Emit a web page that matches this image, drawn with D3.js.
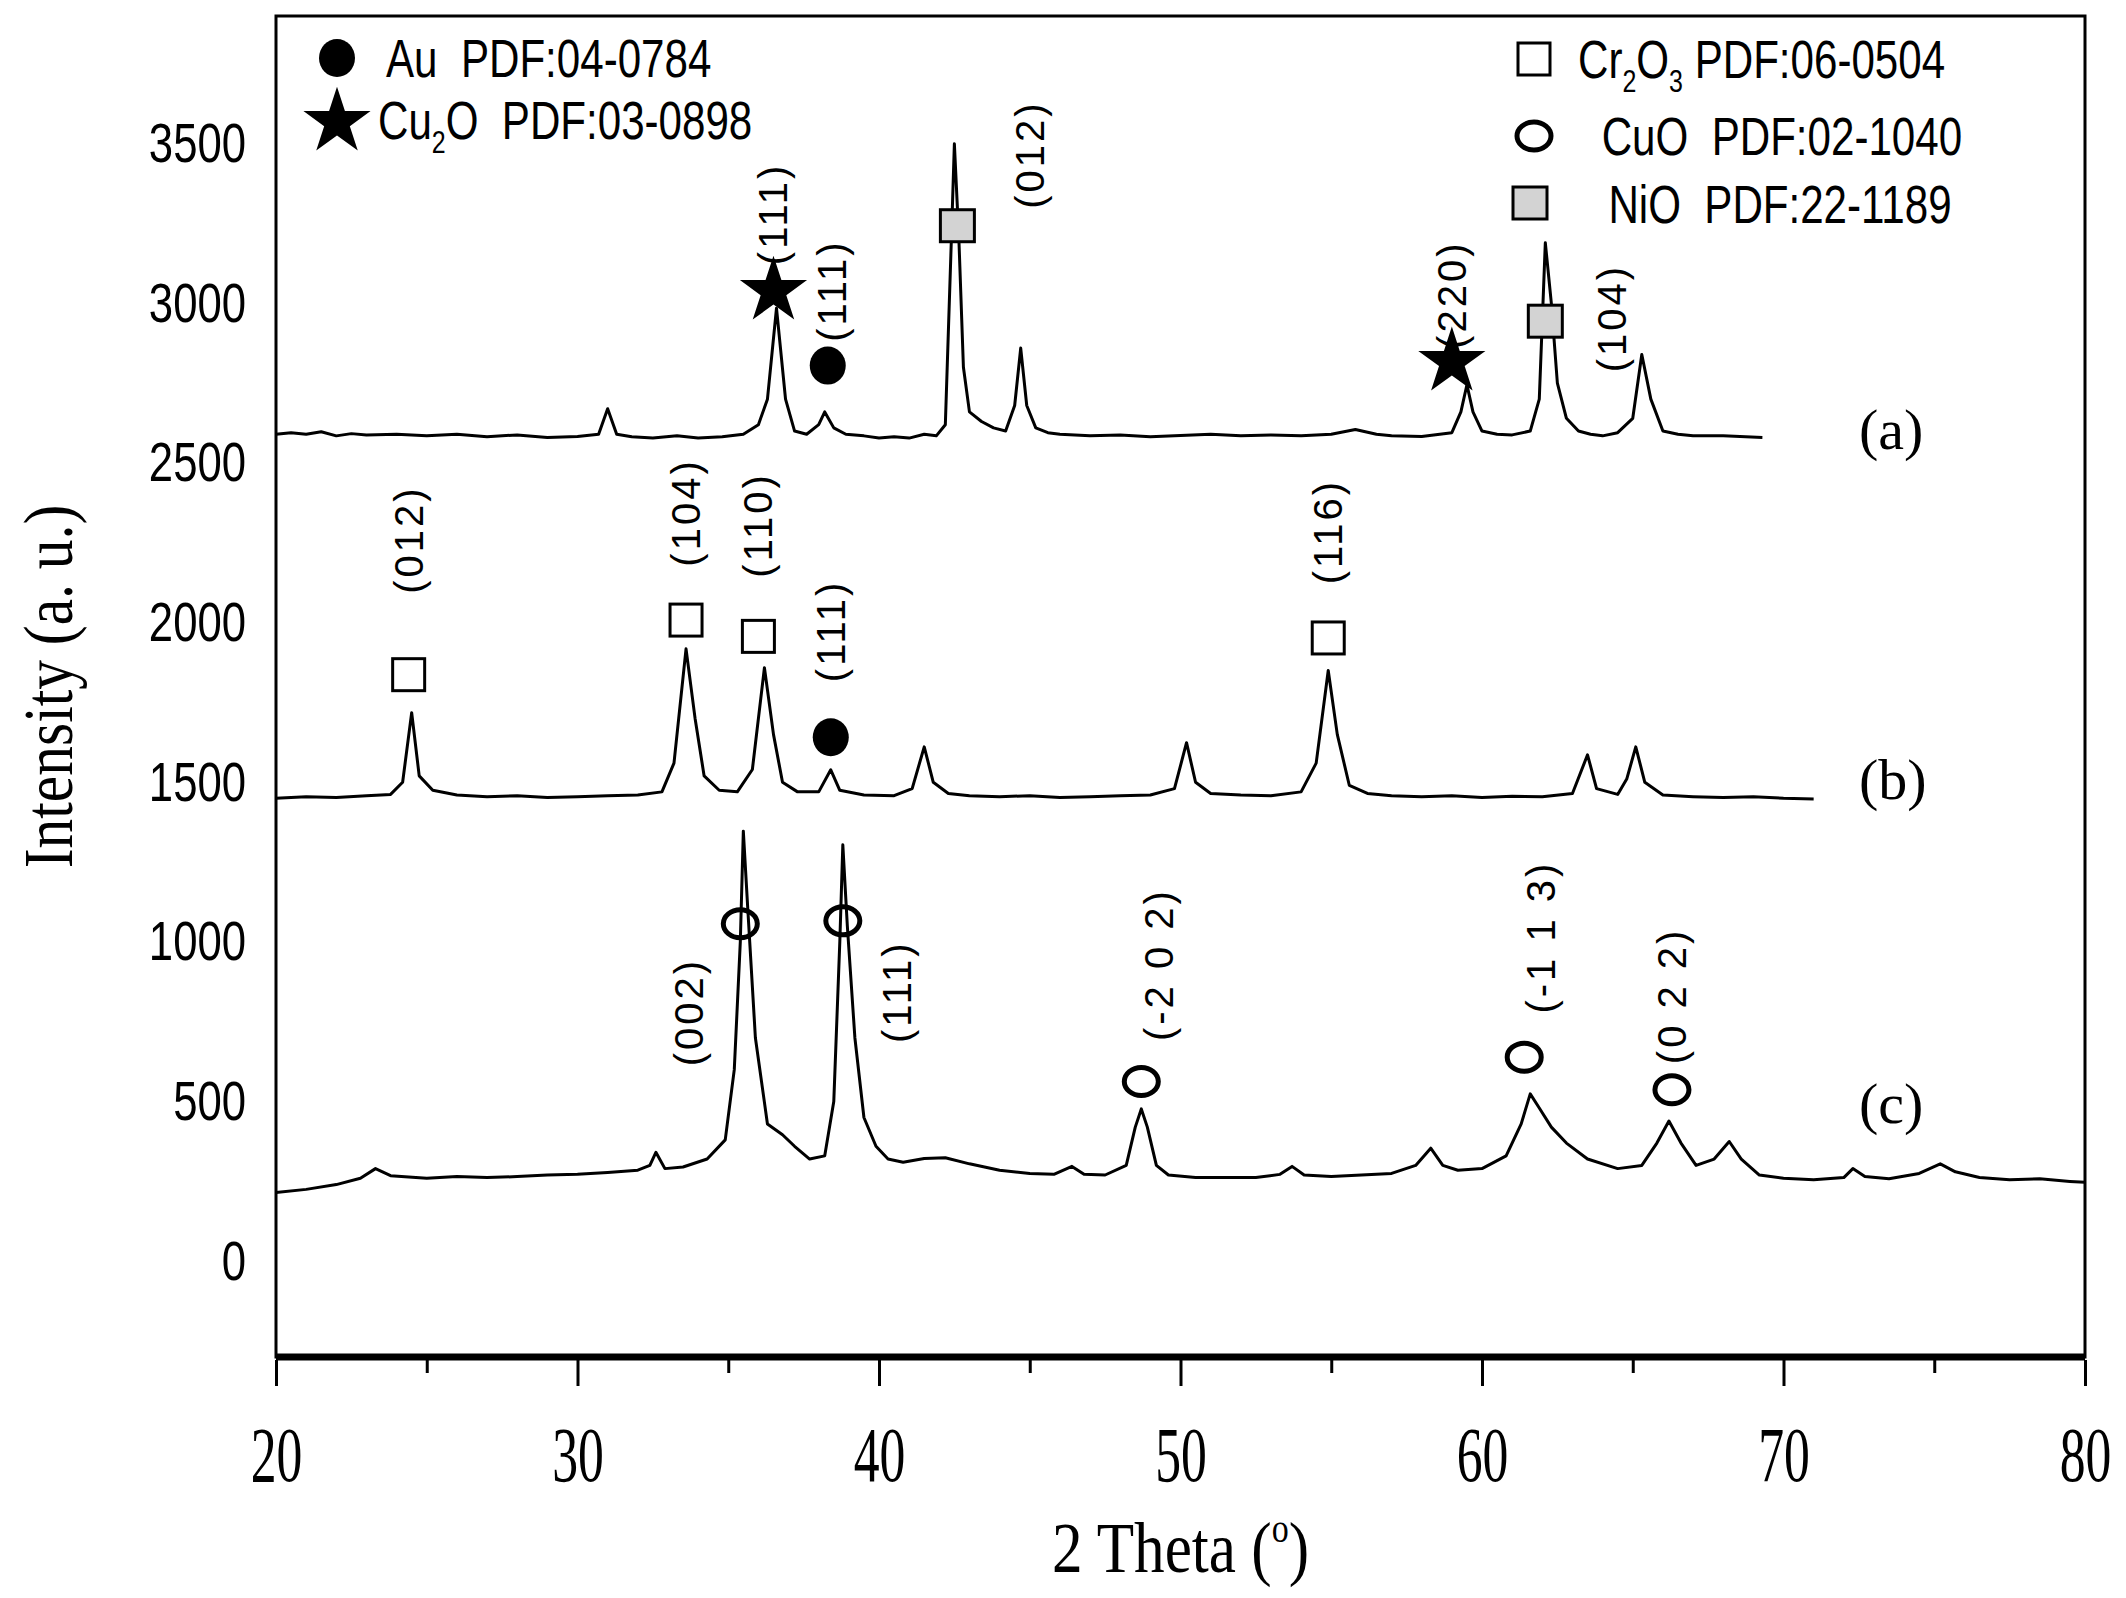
<!DOCTYPE html>
<html><head><meta charset="utf-8">
<script src="https://cdn.jsdelivr.net/npm/d3@7"></script>
<style>body{margin:0;background:#fff}</style></head>
<body><svg id="c" width="2126" height="1598"></svg>
<script>
const xTicks=[20,30,40,50,60,70,80];
const yTicks=[0,500,1000,1500,2000,2500,3000,3500];
const seriesA=[[20,2590],[20.5,2595],[21,2590],[21.5,2598],[22,2585],[22.5,2592],[23,2588],[24,2590],[25,2585],[26,2590],[27,2582],[28,2588],[29,2580],[30,2583],[30.7,2590],[31,2670],[31.3,2590],[31.8,2582],[32.5,2578],[33.3,2585],[34,2578],[34.8,2582],[35.5,2590],[36,2620],[36.3,2700],[36.6,2985],[36.9,2700],[37.2,2600],[37.6,2590],[38,2620],[38.2,2660],[38.5,2610],[38.9,2590],[39.5,2585],[40,2578],[40.5,2582],[41,2578],[41.5,2590],[41.9,2585],[42.2,2620],[42.4,3200],[42.5,3500],[42.65,3200],[42.8,2800],[43,2660],[43.4,2630],[43.8,2610],[44.2,2600],[44.5,2680],[44.7,2860],[44.9,2680],[45.2,2610],[45.6,2595],[46,2590],[47,2585],[48,2588],[49,2582],[50,2586],[51,2590],[52,2585],[53,2588],[54,2585],[55,2590],[55.8,2605],[56.5,2590],[57,2585],[58,2583],[59,2595],[59.3,2660],[59.5,2745],[59.7,2660],[60,2600],[60.5,2590],[61,2588],[61.6,2600],[61.9,2700],[62.1,3190],[62.3,3000],[62.5,2750],[62.8,2640],[63.2,2600],[63.6,2590],[64,2585],[64.5,2595],[65,2640],[65.3,2840],[65.6,2700],[66,2600],[66.5,2590],[67,2585],[68,2585],[69.3,2580]];
const seriesB=[[20,1450],[21,1455],[22,1452],[23,1458],[23.8,1462],[24.2,1500],[24.5,1718],[24.75,1520],[25.2,1475],[26,1460],[27,1455],[28,1458],[29,1452],[30,1455],[31,1458],[32,1460],[32.8,1470],[33.2,1560],[33.6,1918],[33.9,1700],[34.2,1520],[34.7,1475],[35.3,1470],[35.8,1540],[36.2,1859],[36.5,1650],[36.8,1500],[37.3,1470],[38,1470],[38.4,1539],[38.7,1475],[39.5,1460],[40.5,1458],[41.1,1480],[41.5,1611],[41.8,1500],[42.3,1465],[43,1458],[44,1455],[45,1458],[46,1452],[47,1455],[48,1458],[49,1460],[49.8,1480],[50.2,1624],[50.5,1500],[51,1465],[52,1460],[53,1458],[54,1470],[54.5,1560],[54.9,1850],[55.2,1650],[55.6,1490],[56.2,1465],[57,1458],[58,1455],[59,1458],[60,1452],[61,1456],[62,1455],[63,1465],[63.5,1586],[63.8,1480],[64.5,1462],[64.8,1510],[65.1,1611],[65.4,1500],[66,1460],[67,1455],[68,1452],[69,1455],[70,1450],[71,1448]];
const seriesC=[[20,215],[21,225],[22,240],[22.8,260],[23.3,290],[23.8,268],[25,260],[26,265],[27,262],[28,265],[29,270],[30,272],[31,278],[32,285],[32.4,300],[32.6,341],[32.9,290],[33.5,295],[34.3,320],[34.9,380],[35.2,600],[35.4,1000],[35.5,1347],[35.65,1100],[35.9,700],[36.3,430],[36.8,396],[37.2,360],[37.7,320],[38.2,330],[38.5,500],[38.7,1000],[38.8,1304],[38.95,1050],[39.2,700],[39.5,450],[39.9,360],[40.3,320],[40.8,310],[41.5,322],[42.2,324],[43,305],[44,285],[45,275],[45.8,272],[46.4,297],[46.8,272],[47.5,270],[48.2,300],[48.5,420],[48.7,477],[48.9,420],[49.2,300],[49.6,270],[50.5,262],[51.5,262],[52.5,262],[53.3,272],[53.7,297],[54.1,270],[55,265],[56,270],[57,275],[57.8,300],[58.3,354],[58.7,300],[59.2,285],[60,290],[60.8,330],[61.3,430],[61.6,524],[61.9,480],[62.3,420],[62.8,370],[63.5,320],[64.5,290],[65.3,300],[65.8,370],[66.2,439],[66.6,370],[67.1,300],[67.7,320],[68.2,375],[68.6,320],[69.2,270],[70,260],[71,255],[72,262],[72.3,290],[72.7,265],[73.5,258],[74.5,275],[75.2,305],[75.7,280],[76.5,262],[77.5,255],[78.5,258],[79.5,250],[80,247]];
const markers=[["star",36.5,3048],["dot",38.3,2805],["grey",42.6,3240],["star",59.0,2826],["grey",62.1,2941],
 ["sq",24.4,1837],["sq",33.6,2008],["sq",36.0,1957],["dot",38.4,1641],["sq",54.9,1952],
 ["ring",35.4,1057],["ring",38.8,1066],["ring",48.7,563],["ring",61.4,639],["ring",66.3,537]];
const hkl=[["(111)",36.5,3280],["(111)",38.45,3040],["(012)",45.0,3466],["(220)",59.0,3027],["(104)",64.3,2954],
 ["(012)",24.4,2260],["(104)",33.6,2345],["(110)",36.0,2306],["(111)",38.4,1974],["(116)",54.9,2285],
 ["(002)",33.7,780],["(111)",40.6,844],["(-2 0 2)",49.3,929],["(-1 1 3)",61.95,1015],["(0 2 2)",66.3,831]];
const seriesNames=[["(a)",72.5,2593],["(b)",72.5,1498],["(c)",72.5,482]];

const L=276,R=2085,T=16,B=1357;
const svg=d3.select("#c");
const x=d3.scaleLinear().domain([20,80]).range([L,R]);
const y=d3.scaleLinear().domain([-300,3900]).range([B,T]);
const sans="'Liberation Sans',Arial,sans-serif";
const serif="'Liberation Serif','Times New Roman',serif";
const SX=0.78;

const line=d3.line().x(d=>x(d[0])).y(d=>y(d[1]));
[seriesA,seriesB,seriesC].forEach(s=>svg.append("path").attr("d",line(s)).attr("fill","none").attr("stroke","#000").attr("stroke-width",3).attr("stroke-linejoin","round"));

svg.append("rect").attr("x",L).attr("y",T).attr("width",R-L).attr("height",B-T).attr("fill","none").attr("stroke","#000").attr("stroke-width",3);
svg.append("line").attr("x1",L).attr("x2",R).attr("y1",B).attr("y2",B).attr("stroke","#000").attr("stroke-width",7);
const xa=svg.append("g").attr("transform",`translate(0,${B+3})`).call(d3.axisBottom(x).tickValues(xTicks).tickSize(26).tickPadding(40).tickFormat(d3.format("d")));
xa.select(".domain").remove();
xa.selectAll("line").attr("stroke-width",3);
xa.selectAll("text").attr("font-family",serif).attr("font-size",78).attr("dy","0.71em").attr("transform",`scale(${SX*0.85},1)`);
svg.append("g").attr("transform",`translate(0,${B+3})`).call(d3.axisBottom(x).tickValues(d3.range(25,80,10)).tickSize(13).tickFormat(""))
 .call(g=>{g.select(".domain").remove();g.selectAll("line").attr("stroke-width",3);});
const ya=svg.append("g").attr("transform",`translate(${L},0)`).call(d3.axisLeft(y).tickValues(yTicks).tickSize(0).tickFormat(d3.format("d")));
ya.select(".domain").remove();
ya.selectAll("text").attr("font-family",sans).attr("font-size",56).attr("x",-30/SX).attr("transform",`scale(${SX},1)`);
const xt=svg.append("text").attr("transform",`translate(${(L+R)/2},1572) scale(0.85,1)`).attr("text-anchor","middle").attr("font-family",serif).attr("font-size",72)
 .text("2 Theta (");
xt.append("tspan").attr("font-size",40).attr("dy",-30).text("o");
xt.append("tspan").attr("dy",30).text(")");
svg.append("text").attr("transform","translate(72,"+((T+B)/2)+") rotate(-90) scale(0.85,1)").attr("text-anchor","middle").attr("font-family",serif).attr("font-size",70).text("Intensity (a. u.)");

function drawMarker(g,t,cx,cy){
  if(t==="dot") g.append("ellipse").attr("cx",cx).attr("cy",cy).attr("rx",18).attr("ry",19).attr("fill","#000");
  else if(t==="ring") g.append("ellipse").attr("cx",cx).attr("cy",cy).attr("rx",17).attr("ry",14).attr("fill","none").attr("stroke","#000").attr("stroke-width",5);
  else if(t==="sq") g.append("rect").attr("x",cx-16).attr("y",cy-16).attr("width",32).attr("height",32).attr("fill","#fff").attr("stroke","#000").attr("stroke-width",3);
  else if(t==="grey") g.append("rect").attr("x",cx-17).attr("y",cy-17).attr("width",34).attr("height",32).attr("fill","#d3d3d3").attr("stroke","#000").attr("stroke-width",3);
  else if(t==="star") g.append("path").attr("d",d3.symbol(d3.symbolStar,1400)()).attr("transform",`translate(${cx},${cy+3})`).attr("fill","#000");
}
const mg=svg.append("g");
markers.forEach(m=>drawMarker(mg,m[0],x(m[1]),y(m[2])));
hkl.forEach(h=>svg.append("text").attr("transform",`translate(${x(h[1])+14},${y(h[2])}) rotate(-90)`).attr("text-anchor","middle")
  .attr("font-family",sans).attr("font-size",40).attr("letter-spacing",3).text(h[0]));
seriesNames.forEach(s=>svg.append("text").attr("x",x(s[1])).attr("y",y(s[2])+16).attr("font-family",serif).attr("font-size",58).text(s[0]));

const lg=svg.append("g").attr("font-family",sans).attr("font-size",54);
function legText(xx,yy){return lg.append("text").attr("transform",`translate(${xx},${yy}) scale(${SX},1)`).attr("xml:space","preserve");}
function sub(t,s){t.append("tspan").attr("font-size",32).attr("dy",14).text(s);}
function norm(t,s){t.append("tspan").attr("dy",-14).text(s);}
drawMarker(lg,"dot",337,58);
legText(386,77).text("Au  PDF:04-0784");
drawMarker(lg,"star",337,119);
let t=legText(378,139).text("Cu"); sub(t,"2"); norm(t,"O  PDF:03-0898");
drawMarker(lg,"sq",1534,59);
t=legText(1578,78).text("Cr"); sub(t,"2"); norm(t,"O"); sub(t,"3"); norm(t," PDF:06-0504");
drawMarker(lg,"ring",1534,136);
legText(1590,155).text(" CuO  PDF:02-1040");
drawMarker(lg,"grey",1530,204);
legText(1585,223).text("  NiO  PDF:22-1189");
</script></body></html>
